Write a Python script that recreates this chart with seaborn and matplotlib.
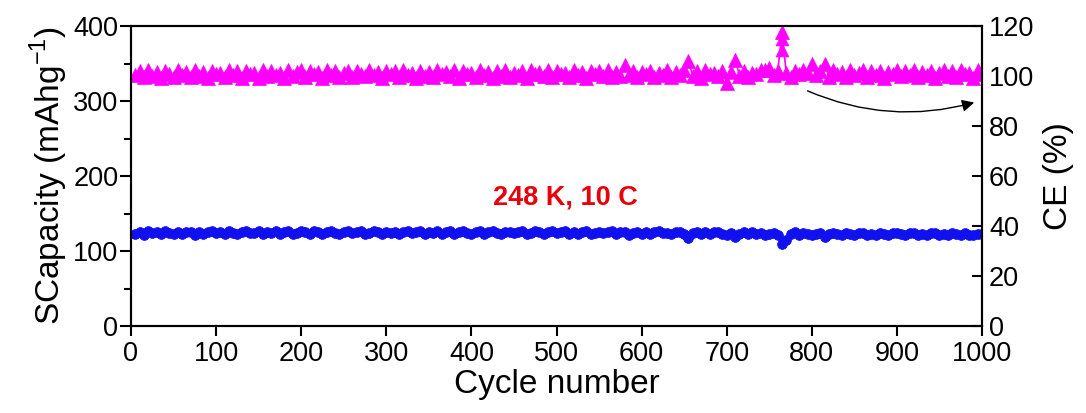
import numpy as np
import pandas as pd
import matplotlib
matplotlib.use("Agg")
import matplotlib.pyplot as plt
import seaborn as sns
from matplotlib.ticker import MultipleLocator

# ---------------- data ----------------
cycles = list(range(5, 1001, 5))

capacity = [
    123.0, 125.4, 121.6, 126.2, 123.8, 125.0, 122.1, 126.5, 124.3, 122.6, 125.9, 123.2, 126.0, 124.7, 121.8, 125.6, 122.9, 124.9, 126.4, 123.4,
    125.1, 122.4, 126.3, 124.0, 122.8, 125.7, 126.8, 123.5, 124.4, 126.1, 122.5, 125.8, 123.9, 126.6, 123.1, 125.3, 126.2, 122.3, 124.6, 126.4,
    125.5, 123.2, 126.3, 124.8, 122.7, 125.9, 126.7, 123.8, 122.6, 125.6, 126.1, 123.5, 125.0, 126.5, 122.9, 124.5, 126.2, 125.3, 123.1, 125.9,
    124.2, 126.0, 122.7, 125.5, 126.7, 123.4, 124.9, 126.2, 122.9, 125.7, 124.0, 126.4, 122.4, 125.3, 126.1, 123.2, 125.0, 126.8, 123.8, 122.6,
    125.8, 126.2, 122.9, 124.8, 126.5, 123.9, 123.1, 125.5, 126.0, 123.4, 125.1, 126.7, 122.6, 124.4, 126.3, 125.6, 122.8, 125.2, 126.1, 123.5,
    124.8, 126.4, 123.0, 125.5, 122.5, 125.9, 126.3, 122.7, 124.6, 126.0, 123.4, 125.3, 126.5, 122.9, 125.0, 125.9, 121.6, 124.2, 126.0, 123.2,
    124.9, 122.8, 125.7, 126.2, 123.5, 124.4, 122.4, 125.5, 126.0, 123.1, 117.8, 124.3, 125.3, 122.5, 125.9, 122.9, 124.7, 126.0, 122.7, 121.5,
    124.0, 118.6, 122.9, 125.0, 122.3, 125.6, 122.8, 124.5, 121.6, 122.7, 123.6, 121.2, 110.0, 114.5, 122.4, 124.8, 122.0, 124.1, 122.9, 121.4,
    122.8, 124.3, 118.9, 122.5, 124.1, 122.3, 121.5, 124.4, 123.1, 121.7, 123.9, 124.6, 121.9, 123.0, 121.3, 124.2, 122.6, 121.7, 123.7, 124.0,
    122.5, 121.4, 123.8, 124.3, 121.8, 122.9, 121.0, 123.6, 124.5, 121.6, 122.7, 121.2, 123.9, 122.5, 121.1, 123.4, 122.0, 121.5, 122.9, 122.3,
]

ce = [
    100.6, 102.1, 99.5, 102.5, 100.2, 101.6, 99.3, 102.2, 100.9, 99.8, 102.4, 100.4, 101.5, 99.6, 102.6, 100.0, 101.8, 99.4, 102.0, 100.8,
    101.2, 99.7, 102.5, 100.3, 101.9, 99.4, 102.2, 100.7, 101.4, 99.3, 102.6, 100.1, 102.0, 100.5, 101.1, 99.2, 102.3, 100.2, 101.6, 102.4,
    99.6, 102.1, 100.8, 101.5, 99.4, 102.4, 100.3, 101.9, 99.8, 101.2, 102.2, 99.5, 102.0, 100.9, 100.0, 102.5, 100.5, 101.7, 99.3, 102.1,
    100.9, 101.9, 99.7, 102.4, 100.4, 101.3, 99.2, 102.1, 100.2, 101.7, 99.6, 102.5, 100.8, 101.5, 100.0, 102.3, 99.4, 102.0, 100.7, 101.2,
    99.7, 102.4, 100.6, 101.8, 99.3, 102.2, 100.1, 102.6, 99.6, 101.1, 100.5, 102.0, 99.4, 102.3, 100.9, 101.6, 99.9, 102.5, 99.8, 101.9,
    100.7, 101.3, 99.6, 102.3, 100.4, 101.8, 99.3, 102.1, 100.9, 101.9, 99.9, 102.4, 99.5, 101.5, 100.2, 104.6, 100.6, 102.0, 99.8, 101.7,
    100.8, 102.2, 99.5, 101.4, 100.3, 102.5, 99.7, 101.8, 100.6, 102.3, 106.0, 100.2, 101.9, 99.4, 102.4, 100.8, 101.2, 99.9, 102.1, 97.4,
    101.6, 106.6, 100.2, 102.2, 99.6, 101.3, 100.7, 102.3, 102.6, 103.4, 100.4, 102.0, 117.5, 101.2, 99.8, 102.1, 100.8, 102.4, 101.2, 105.0,
    100.6, 101.9, 104.8, 99.8, 102.3, 100.7, 101.6, 99.5, 102.4, 100.3, 101.1, 102.5, 99.7, 101.9, 100.4, 102.2, 99.4, 101.5, 100.8, 102.3,
    99.9, 102.1, 100.6, 102.6, 99.5, 101.7, 100.4, 102.2, 99.3, 101.2, 102.4, 100.2, 101.9, 99.7, 102.5, 100.8, 101.4, 99.4, 102.3, 100.7,
]

# extra stacked CE points at the spike
spike_cycles = [765, 765]
spike_ce = [114.8, 110.6]

annotation_text = "248 K, 10 C"
xlabel = "Cycle number"
ylabel_left = "SCapacity (mAhg$^{-1}$)"
ylabel_right = "CE (%)"

# ---------------- style ----------------
sns.set_theme(style="white")
plt.rcParams["font.family"] = ["Liberation Sans", "DejaVu Sans"]
plt.rcParams["mathtext.fontset"] = "custom"
plt.rcParams["mathtext.rm"] = "Liberation Sans"
for k in ("text.color", "axes.labelcolor", "xtick.color", "ytick.color"):
    plt.rcParams[k] = "black"

BLUE = "#1010F0"
MAGENTA = "#FF00FF"

fig = plt.figure(figsize=(10.86, 4.13), dpi=100)
ax = fig.add_axes([131 / 1086, 1 - 326 / 413, (982 - 131) / 1086, 300 / 413])
ax2 = ax.twinx()

df_cap = pd.DataFrame({"cycle": cycles, "cap": capacity})
df_ce = pd.DataFrame({"cycle": cycles, "ce": ce})

sns.lineplot(data=df_cap, x="cycle", y="cap", ax=ax, color=BLUE, lw=1.2,
             marker="o", markersize=7, markeredgewidth=0.6, markeredgecolor=BLUE)
sns.lineplot(data=df_ce, x="cycle", y="ce", ax=ax2, color=MAGENTA, lw=1.2,
             marker="^", markersize=9.5, markeredgewidth=0.5, markeredgecolor=MAGENTA)
sns.scatterplot(x=spike_cycles, y=spike_ce, ax=ax2, color=MAGENTA, marker="^",
                s=85, edgecolor=MAGENTA, linewidth=0.5)

ax.set_xlim(0, 1000)
ax.set_ylim(0, 400)
ax2.set_ylim(0, 120)

ax.xaxis.set_major_locator(MultipleLocator(100))
ax.yaxis.set_major_locator(MultipleLocator(100))
ax.yaxis.set_minor_locator(MultipleLocator(50))
ax2.yaxis.set_major_locator(MultipleLocator(20))

tick_fs = 19.5
label_fs = 24
ax.tick_params(axis="x", which="major", direction="out", length=7, width=1.5,
               labelsize=tick_fs, bottom=True, top=False, pad=4)
ax.tick_params(axis="y", which="major", direction="out", length=8, width=1.5,
               labelsize=tick_fs, left=True, right=False, pad=1)
ax.tick_params(axis="y", which="minor", direction="out", length=5, width=1.5,
               left=True, right=False)
ax2.tick_params(axis="y", which="major", direction="in", length=7, width=1.5,
                labelsize=tick_fs, right=True, left=False, pad=5)

for a in (ax, ax2):
    for s in a.spines.values():
        s.set_linewidth(1.5)
        s.set_color("black")

ax.set_xlabel(xlabel, fontsize=label_fs, labelpad=1)
ax.set_ylabel(ylabel_left, fontsize=label_fs, labelpad=2)
ax2.set_ylabel(ylabel_right, fontsize=label_fs, labelpad=6)

ax.text(510, 171, annotation_text, color="#E8000B", fontsize=19.5,
        fontweight="bold", ha="center", va="center")

ax.annotate("", xy=(994, 299), xytext=(792, 315),
            arrowprops=dict(arrowstyle="-|>", color="black", lw=1.0,
                            mutation_scale=18,
                            connectionstyle="arc3,rad=0.18"))

ax.set_zorder(ax2.get_zorder() + 1)
ax.patch.set_visible(False)

fig.savefig("out.png", dpi=100)
